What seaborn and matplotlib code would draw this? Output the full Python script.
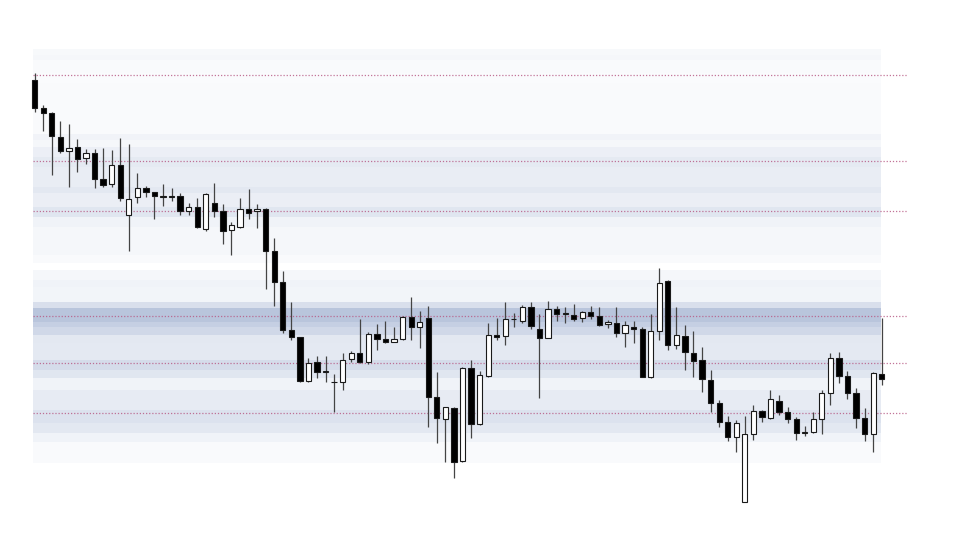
import matplotlib
matplotlib.use("Agg")
import matplotlib.pyplot as plt
import numpy as np
import seaborn as sns

# OHLC prices, one entry per candle
opens = [52.00, 49.17, 48.67, 46.33, 44.90, 45.27, 44.17, 44.73, 42.07, 41.57,
         43.50, 38.50, 40.30, 41.23, 40.80, 40.33, 40.33, 40.40, 38.87, 39.27,
         37.07, 39.70, 38.87, 36.97, 37.33, 39.07, 38.87, 39.07, 34.90, 31.83,
         27.00, 26.27, 21.93, 23.83, 22.83, 21.77, 21.77, 24.07, 24.67, 23.83,
         26.57, 26.07, 25.83, 26.07, 28.33, 27.27, 28.17, 20.27, 18.07, 19.23,
         13.93, 23.17, 17.60, 22.43, 26.50, 26.43, 28.07, 27.93, 29.33, 27.07,
         26.23, 29.10, 28.60, 28.50, 28.17, 28.77, 28.40, 27.57, 27.73, 26.67,
         27.27, 27.13, 22.33, 26.87, 31.87, 25.47, 26.43, 24.67, 24.00, 22.00,
         19.73, 17.77, 16.27, 9.83, 16.57, 18.90, 18.17, 19.90, 18.77, 18.07,
         16.73, 16.77, 18.07, 20.73, 24.17, 22.40, 20.67, 18.17, 16.60, 22.60]
closes = [49.17, 48.67, 46.40, 44.90, 45.23, 44.13, 44.73, 42.07, 41.50, 43.50,
          40.17, 40.07, 41.23, 40.83, 40.37, 40.33, 40.33, 38.90, 39.27, 37.30,
          40.57, 38.90, 36.87, 37.47, 39.07, 38.73, 39.07, 34.90, 31.83, 27.00,
          26.27, 21.93, 23.73, 22.83, 22.83, 21.77, 24.00, 24.67, 23.77, 26.57,
          26.07, 25.83, 26.07, 28.33, 27.33, 27.77, 20.27, 18.17, 19.27, 13.83,
          23.17, 17.60, 22.50, 26.50, 26.33, 28.07, 28.07, 29.33, 27.43, 26.23,
          29.10, 28.57, 28.60, 28.10, 28.77, 28.43, 27.50, 27.77, 26.67, 27.47,
          27.07, 22.33, 26.87, 31.67, 25.47, 26.47, 24.77, 23.93, 22.13, 19.73,
          17.77, 16.27, 17.67, 16.57, 18.90, 18.27, 20.07, 18.77, 18.07, 16.73,
          16.73, 18.07, 20.73, 24.17, 22.40, 20.67, 18.17, 16.60, 22.73, 22.10]
highs = [52.73, 49.50, 48.83, 47.93, 47.60, 46.10, 45.07, 45.10, 45.17, 45.00,
         46.17, 45.60, 42.67, 41.40, 40.80, 41.57, 41.23, 40.73, 39.73, 40.17,
         40.73, 41.67, 39.57, 37.77, 40.17, 41.07, 39.57, 39.17, 36.23, 32.90,
         29.83, 26.33, 24.17, 24.40, 24.43, 22.57, 24.67, 24.90, 28.07, 26.77,
         27.57, 27.93, 27.33, 28.40, 30.27, 28.93, 29.40, 22.83, 19.33, 19.27,
         23.33, 24.00, 22.93, 27.73, 28.17, 29.77, 28.73, 29.50, 29.77, 28.57,
         29.93, 29.40, 29.33, 29.60, 28.93, 29.43, 29.33, 28.00, 29.33, 27.90,
         27.93, 27.33, 28.60, 33.17, 32.00, 29.33, 27.50, 26.93, 25.27, 23.00,
         20.00, 18.40, 18.00, 18.40, 19.50, 19.00, 21.00, 20.50, 19.27, 18.33,
         17.40, 18.83, 21.00, 24.67, 24.83, 22.93, 21.17, 19.17, 22.83, 28.17]
lows = [48.83, 46.93, 42.50, 44.73, 41.33, 42.83, 43.57, 41.17, 41.33, 41.33,
        39.93, 34.90, 39.73, 40.33, 38.10, 39.40, 39.90, 38.50, 38.50, 37.23,
        36.93, 38.33, 35.60, 34.53, 37.17, 38.07, 37.17, 31.07, 29.40, 26.67,
        26.00, 21.77, 21.77, 22.17, 21.77, 18.77, 21.00, 23.83, 23.67, 23.60,
        25.00, 25.67, 25.83, 26.00, 26.00, 25.17, 17.33, 15.73, 13.83, 12.17,
        13.83, 16.17, 17.50, 22.33, 26.00, 25.50, 27.33, 27.67, 27.10, 20.17,
        26.17, 27.90, 27.67, 27.90, 27.83, 28.10, 27.43, 27.17, 26.33, 25.33,
        25.67, 22.27, 22.23, 26.00, 25.00, 25.07, 23.00, 22.33, 20.83, 18.83,
        17.33, 15.93, 14.83, 9.83, 16.00, 17.83, 18.07, 18.50, 17.67, 16.00,
        16.40, 16.73, 16.60, 19.50, 21.73, 20.07, 17.17, 15.93, 14.83, 21.50]

# horizontal levels (dotted)
levels = [52.5, 43.9, 38.9, 28.4, 23.7, 18.7]

# volume-profile style bands: price edges (top to bottom) and shade per band
upper_edges = [55.1, 54.5, 54.0, 52.7, 51.7, 46.6, 46.0, 45.3, 44.3, 43.3,
               41.3, 40.7, 39.3, 38.3, 37.3, 34.5, 33.7]
upper_shade = [0.06, 0.08, 0.05, 0.04, 0.05, 0.11, 0.08, 0.15, 0.20, 0.17,
               0.22, 0.16, 0.24, 0.12, 0.08, 0.05]
lower_edges = [33.0, 32.0, 31.3, 29.8, 29.2, 27.8, 27.3, 26.5, 25.7, 24.0,
               23.0, 22.2, 21.0, 19.0, 17.7, 16.7, 15.8, 13.7]
lower_shade = [0.08, 0.12, 0.10, 0.30, 0.55, 0.45, 0.37, 0.22, 0.21, 0.33,
               0.24, 0.12, 0.19, 0.27, 0.22, 0.12, 0.05]

sns.set_theme(style="white")
band_cmap = sns.blend_palette(["#ffffff", "#7f95c0"], as_cmap=True)

fig = plt.figure(figsize=(9.6, 5.4), dpi=100)
ax = fig.add_axes([0, 0, 1, 1])
ax.set_axis_off()

n = len(opens)
idx = np.arange(n)
band_left, band_right = -0.2, n - 1.1

for edges, shade in [(upper_edges, upper_shade), (lower_edges, lower_shade)]:
    edges = np.array(edges)
    centers = (edges[:-1] + edges[1:]) / 2
    heights = edges[:-1] - edges[1:]
    ax.barh(centers, band_right - band_left, height=heights, left=band_left,
            color=[band_cmap(s) for s in shade], linewidth=0, zorder=1)

for lv in levels:
    ax.hlines(lv, band_left, n + 2.0, colors="#b85c86", linewidth=0.9,
              linestyles=(0, (1, 1.5)), alpha=0.85, zorder=2)

o = np.array(opens)
c = np.array(closes)
up = c >= o
ax.vlines(idx, lows, highs, colors="#444444", linewidth=0.9, zorder=3)
body_bottom = np.minimum(o, c)
body_height = np.maximum(np.abs(c - o), 0.06)
ax.bar(idx, body_height, bottom=body_bottom, width=0.62,
       color=np.where(up, "white", "black"), edgecolor="#1a1a1a",
       linewidth=0.8, zorder=4)

ax.set_xlim(-4.056, 108.15)
ax.set_ylim(6, 60)

fig.savefig("out.png", dpi=100, facecolor="white")
